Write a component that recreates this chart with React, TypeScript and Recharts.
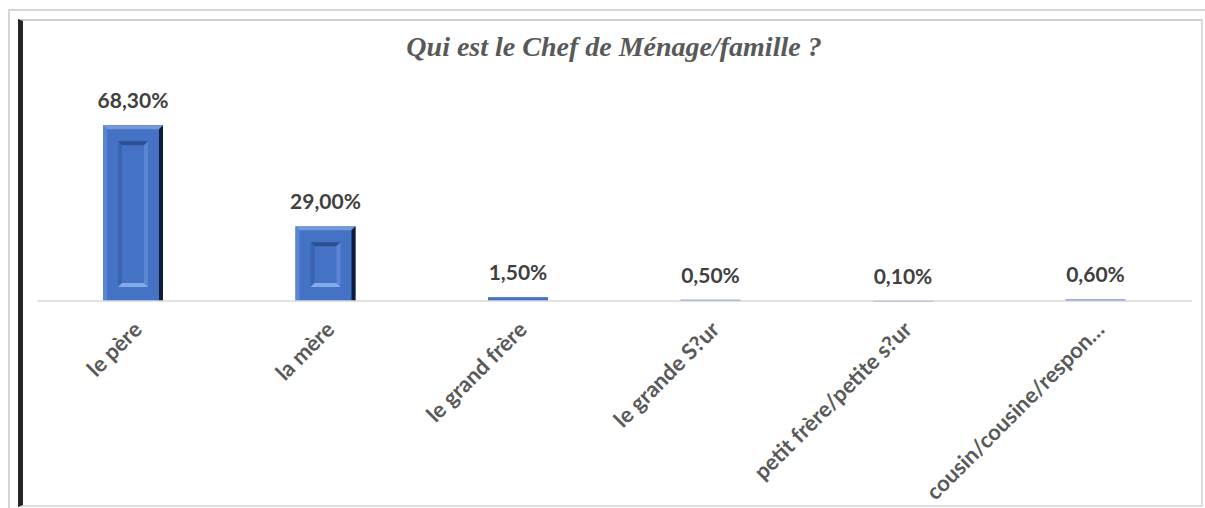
import React from 'react';
import { BarChart, Bar, XAxis, YAxis, LabelList } from 'recharts';

const categories = [
  'le père',
  'la mère',
  'le grand frère',
  'le grande S?ur',
  'petit frère/petite s?ur',
  'cousin/cousine/respon…',
];
const shares = [68.3, 29.0, 1.5, 0.5, 0.1, 0.6];

const data = categories.map((name, i) => ({ name, value: shares[i] }));

const fmt = (v: any) => Number(v).toFixed(2).replace('.', ',') + '%';

const pts = (arr: number[][]) => arr.map((p) => p.join(',')).join(' ');

// excel-like bevelled column
const BevelBar = (props: any) => {
  const { x, y, width: w, height: h } = props;
  if (!h || h <= 0) return null;
  if (h < 24) return <rect x={x} y={y} width={w} height={Math.max(h, 1)} fill="#4472c4" />;
  const b = 4;
  const il = x + 15;
  const ir = x + w - 15;
  const it = y + 16;
  const ib = y + h - 14;
  const d = 4;
  return (
    <g>
      <rect x={x} y={y} width={w} height={h} fill="#4472c4" />
      <polygon points={pts([[x, y], [x + w, y], [x + w - b, y + b], [x + b, y + b]])} fill="#7398dc" />
      <polygon points={pts([[x, y], [x + b, y + b], [x + b, y + h], [x, y + h]])} fill="#5b85d2" />
      <polygon points={pts([[x + w, y], [x + w, y + h], [x + w - b, y + h], [x + w - b, y + b]])} fill="#0f1d3a" />
      <rect x={il} y={it} width={ir - il} height={ib - it} fill="#4472c4" />
      <polygon points={pts([[il, it], [ir, it], [ir - d, it + d], [il + d, it + d]])} fill="#2c4f92" />
      <polygon points={pts([[il, it], [il + d, it + d], [il + d, ib - d], [il, ib]])} fill="#3a63b0" />
      <polygon points={pts([[ir, it], [ir, ib], [ir - d, ib - d], [ir - d, it + d]])} fill="#5b86d4" />
      <polygon points={pts([[il, ib], [ir, ib], [ir - d, ib - d], [il + d, ib - d]])} fill="#86a9e8" />
    </g>
  );
};

const Tick = (props: any) => {
  const { x, y, payload } = props;
  const tx = x + 10;
  const ty = y + 30;
  return (
    <text
      x={tx}
      y={ty}
      textAnchor="end"
      transform={`rotate(-45, ${tx}, ${ty})`}
      fill="#595959"
      fontFamily="Lato, sans-serif"
      fontWeight={700}
      fontSize={22}
    >
      {payload.value}
    </text>
  );
};

export default function App() {
  return (
    <div style={{ position: 'absolute', left: 0, top: 0, width: 1205, height: 508, background: '#fff', overflow: 'hidden' }}>
      {/* frame */}
      <div style={{ position: 'absolute', left: 8, top: 9, width: 1210, height: 520, borderTop: '2px solid #d6d6d6', borderLeft: '2px solid #d6d6d6' }} />
      <div
        style={{
          position: 'absolute',
          left: 18,
          top: 19,
          width: 1178,
          height: 484,
          borderTop: '2px solid #d0d0d0',
          borderLeft: '5px solid #262626',
          borderRight: '2px solid #dcdcdc',
          borderBottom: '2px solid #dcdcdc',
        }}
      />
      <div
        style={{
          position: 'absolute',
          left: 0,
          width: 1228,
          top: 31,
          textAlign: 'center',
          fontFamily: '"Liberation Serif", serif',
          fontStyle: 'italic',
          fontWeight: 700,
          fontSize: 28,
          lineHeight: '32px',
          color: '#595959',
        }}
      >
        Qui est le Chef de Ménage/famille ?
      </div>
      <div style={{ position: 'absolute', left: 0, top: 0 }}>
        <BarChart width={1205} height={508} data={data} margin={{ top: 95, right: 13, bottom: 0, left: 37 }}>
          <XAxis
            dataKey="name"
            height={207}
            interval={0}
            tickLine={false}
            tickSize={0}
            tickMargin={0}
            axisLine={{ stroke: '#d9d9d9', strokeWidth: 1.5 }}
            tick={<Tick />}
          />
          <YAxis hide domain={[0, 80]} />
          <Bar dataKey="value" barSize={60} isAnimationActive={false} shape={<BevelBar />}>
            <LabelList
              dataKey="value"
              position="top"
              offset={17}
              formatter={fmt}
              fill="#404040"
              fontFamily="Lato, sans-serif"
              fontWeight={700}
              fontSize={21}
            />
          </Bar>
        </BarChart>
      </div>
    </div>
  );
}
